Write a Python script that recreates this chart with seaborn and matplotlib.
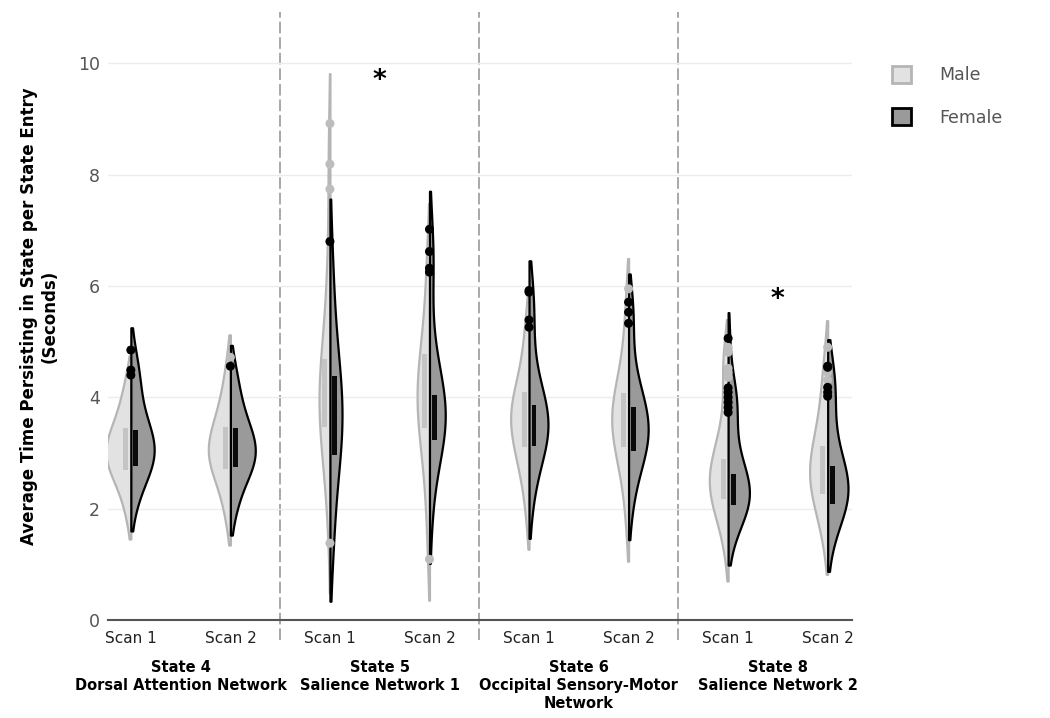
import pandas as pd
import seaborn as sns
import matplotlib.pyplot as plt
import matplotlib.transforms as mtransforms
from matplotlib.patches import Patch

scans = ['Scan 1', 'Scan 2']
states = ['State 4', 'State 5', 'State 6', 'State 8']
state_titles = ['State 4\nDorsal Attention Network',
                'State 5\nSalience Network 1',
                'State 6\nOccipital Sensory-Motor\nNetwork',
                'State 8\nSalience Network 2']
sexes = ['Male', 'Female']

# per-subject values (body) and the outlier dots
s4_scan1_male = [1.8, 2.1, 2.3, 2.45, 2.55, 2.63, 2.7, 2.77, 2.84, 2.9, 2.96, 3.01, 3.06, 3.11, 3.17,
                 3.23, 3.3, 3.37, 3.45, 3.55, 3.67, 3.8, 3.95, 4.15, 4.4]
s4_scan1_male_out = []
s4_scan1_female = [2.0, 2.3, 2.48, 2.6, 2.68, 2.76, 2.83, 2.9, 2.96, 3.02, 3.08, 3.14, 3.2, 3.27,
                   3.34, 3.42, 3.52, 3.64, 3.8, 4.0, 4.2]
s4_scan1_female_out = [4.40, 4.49, 4.85]

s4_scan2_male = [1.75, 2.05, 2.3, 2.47, 2.6, 2.7, 2.78, 2.85, 2.92, 2.98, 3.04, 3.1, 3.17, 3.24, 3.32,
                 3.4, 3.5, 3.62, 3.76, 3.92, 4.1, 4.35]
s4_scan2_male_out = [4.72]
s4_scan2_female = [1.9, 2.2, 2.42, 2.56, 2.66, 2.74, 2.82, 2.89, 2.95, 3.01, 3.07, 3.13, 3.2, 3.28,
                   3.36, 3.45, 3.56, 3.7, 3.86, 4.05, 4.28]
s4_scan2_female_out = [4.56]

s5_scan1_male = [2.05, 2.4, 2.7, 2.95, 3.15, 3.3, 3.4, 3.5, 3.6, 3.68, 3.76, 3.84, 3.9, 3.97, 4.05,
                 4.13, 4.22, 4.32, 4.42, 4.52, 4.65, 4.8, 5.0, 5.25, 5.55, 5.9, 6.3, 6.7]
s5_scan1_male_out = [1.38, 7.74, 8.19, 8.92]
s5_scan1_female = [1.1, 1.5, 1.9, 2.3, 2.6, 2.85, 3.0, 3.1, 3.22, 3.35, 3.48, 3.6, 3.72, 3.85, 3.97,
                   4.1, 4.22, 4.35, 4.5, 4.7, 4.95, 5.3, 5.7, 6.1]
s5_scan1_female_out = [6.8]

s5_scan2_male = [1.7, 2.2, 2.6, 2.9, 3.1, 3.3, 3.45, 3.58, 3.7, 3.8, 3.9, 3.98, 4.06, 4.15, 4.25,
                 4.35, 4.48, 4.62, 4.78, 4.95, 5.2, 5.5, 5.9, 6.4, 6.75]
s5_scan2_male_out = [1.09]
s5_scan2_female = [1.7, 2.3, 2.7, 2.95, 3.1, 3.18, 3.26, 3.34, 3.42, 3.5, 3.57, 3.64, 3.7, 3.76, 3.82,
                   3.88, 3.95, 4.02, 4.1, 4.2, 4.32, 4.5, 4.8, 5.2]
s5_scan2_female_out = [6.25, 6.32, 6.62, 7.02]

s6_scan1_male = [1.75, 2.2, 2.5, 2.7, 2.85, 2.97, 3.08, 3.18, 3.28, 3.38, 3.46, 3.54, 3.6, 3.66, 3.72,
                 3.78, 3.85, 3.93, 4.02, 4.12, 4.25, 4.4, 4.6, 4.85, 5.15, 5.5]
s6_scan1_male_out = []
s6_scan1_female = [2.0, 2.4, 2.65, 2.85, 2.98, 3.08, 3.16, 3.24, 3.3, 3.36, 3.42, 3.48, 3.54, 3.6, 3.67,
                   3.74, 3.82, 3.9, 3.96, 4.05, 4.2, 4.4, 4.7]
s6_scan1_female_out = [5.26, 5.39, 5.89, 5.92]

s6_scan2_male = [1.6, 2.1, 2.45, 2.7, 2.88, 3.0, 3.1, 3.2, 3.3, 3.4, 3.48, 3.55, 3.62, 3.68, 3.75,
                 3.82, 3.9, 3.98, 4.08, 4.2, 4.35, 4.55, 4.8, 5.1, 5.5]
s6_scan2_male_out = [5.95]
s6_scan2_female = [1.95, 2.35, 2.6, 2.78, 2.9, 3.0, 3.08, 3.15, 3.22, 3.28, 3.34, 3.4, 3.47, 3.54, 3.62,
                   3.7, 3.78, 3.86, 3.94, 4.04, 4.18, 4.4, 4.75]
s6_scan2_female_out = [5.33, 5.53, 5.71]

s8_scan1_male = [1.2, 1.5, 1.72, 1.88, 2.0, 2.08, 2.14, 2.2, 2.25, 2.3, 2.35, 2.4, 2.45, 2.5, 2.55,
                 2.6, 2.66, 2.72, 2.78, 2.85, 2.92, 3.0, 3.08, 3.2, 3.35, 3.55, 3.75]
s8_scan1_male_out = [4.36, 4.45, 4.52, 4.81, 4.9]
s8_scan1_female = [1.45, 1.68, 1.82, 1.92, 1.98, 2.03, 2.07, 2.11, 2.15, 2.19, 2.23, 2.27, 2.31, 2.36,
                   2.41, 2.47, 2.54, 2.61, 2.68, 2.76, 2.86, 3.0, 3.2, 3.45]
s8_scan1_female_out = [3.73, 3.82, 3.91, 4.0, 4.09, 4.17, 5.06]

s8_scan2_male = [1.3, 1.6, 1.82, 1.98, 2.1, 2.2, 2.28, 2.36, 2.43, 2.5, 2.57, 2.64, 2.71, 2.78, 2.86,
                 2.94, 3.02, 3.1, 3.2, 3.32, 3.46, 3.62, 3.8, 4.0]
s8_scan2_male_out = [4.31, 4.45, 4.9]
s8_scan2_female = [1.35, 1.62, 1.8, 1.92, 2.0, 2.06, 2.12, 2.17, 2.22, 2.27, 2.32, 2.38, 2.44, 2.5,
                   2.57, 2.64, 2.72, 2.8, 2.9, 3.02, 3.18, 3.4, 3.7]
s8_scan2_female_out = [4.02, 4.09, 4.18, 4.54, 4.56]

groups = [
    ('State 4', 'Scan 1', s4_scan1_male, s4_scan1_male_out, s4_scan1_female, s4_scan1_female_out),
    ('State 4', 'Scan 2', s4_scan2_male, s4_scan2_male_out, s4_scan2_female, s4_scan2_female_out),
    ('State 5', 'Scan 1', s5_scan1_male, s5_scan1_male_out, s5_scan1_female, s5_scan1_female_out),
    ('State 5', 'Scan 2', s5_scan2_male, s5_scan2_male_out, s5_scan2_female, s5_scan2_female_out),
    ('State 6', 'Scan 1', s6_scan1_male, s6_scan1_male_out, s6_scan1_female, s6_scan1_female_out),
    ('State 6', 'Scan 2', s6_scan2_male, s6_scan2_male_out, s6_scan2_female, s6_scan2_female_out),
    ('State 8', 'Scan 1', s8_scan1_male, s8_scan1_male_out, s8_scan1_female, s8_scan1_female_out),
    ('State 8', 'Scan 2', s8_scan2_male, s8_scan2_male_out, s8_scan2_female, s8_scan2_female_out),
]

body_rows, out_rows = [], []
for state, scan, m, m_out, f, f_out in groups:
    cat = f'{state} {scan}'
    body_rows += [(cat, 'Male', v) for v in m] + [(cat, 'Female', v) for v in f]
    out_rows += [(cat, 'Male', v) for v in m_out] + [(cat, 'Female', v) for v in f_out]
cats = [f'{s} {sc}' for s in states for sc in scans]
body = pd.DataFrame(body_rows, columns=['cat', 'sex', 'value'])
outl = pd.DataFrame(out_rows, columns=['cat', 'sex', 'value'])
alld = pd.concat([body, outl], ignore_index=True)

male_fill, male_edge = '#e2e2e2', '#b5b5b5'
fem_fill, fem_edge = '#9a9a9a', '#000000'

sns.set_theme(style='white')
plt.rcParams['font.family'] = ['DejaVu Sans']

fig, ax = plt.subplots(figsize=(10.5, 7.18), dpi=100)
fig.subplots_adjust(left=0.103, right=0.811, bottom=0.1365, top=0.983)

sns.violinplot(data=alld, x='cat', y='value', hue='sex', order=cats, hue_order=sexes,
               split=True, inner=None, cut=1, bw_adjust=1.05, density_norm='area', width=0.5,
               palette={'Male': male_fill, 'Female': fem_fill}, linewidth=1.6,
               legend=False, ax=ax)
for coll in ax.collections:
    fc = coll.get_facecolor()
    if len(fc) and fc[0][0] > 0.8:
        coll.set_edgecolor(male_edge)
    else:
        coll.set_edgecolor(fem_edge)
        coll.set_zorder(1.5)

sns.boxplot(data=body, x='cat', y='value', hue='sex', order=cats, hue_order=sexes,
            width=0.2, gap=0.5, whis=0, showfliers=False, showcaps=False, linewidth=0,
            palette={'Male': '#c4c4c4', 'Female': '#0a0a0a'},
            medianprops={'linewidth': 0}, whiskerprops={'linewidth': 0},
            legend=False, ax=ax)

sns.stripplot(data=outl, x='cat', y='value', hue='sex', order=cats, hue_order=sexes,
              jitter=False, dodge=False, size=6.5, linewidth=0,
              palette={'Male': '#bdbdbd', 'Female': '#000000'}, legend=False, zorder=5, ax=ax)

ax.set_xlim(-0.228, 7.24)
ax.set_ylim(0, 10.92)
ax.set_yticks([0, 2, 4, 6, 8, 10])
ax.tick_params(axis='y', labelsize=12.5, labelcolor='#555555', length=0, pad=6)
ax.set_xticks(range(len(cats)))
ax.set_xticklabels(scans * len(states))
ax.tick_params(axis='x', labelsize=11, labelcolor='#222222', length=0, pad=8)
ax.grid(axis='y', color='#ececec', linewidth=1)
ax.set_axisbelow(True)
for side in ['top', 'right', 'left']:
    ax.spines[side].set_visible(False)
ax.spines['bottom'].set_color('#555555')
ax.spines['bottom'].set_linewidth(1.5)
ax.set_xlabel('')
ax.set_ylabel('Average Time Persisting in State per State Entry\n(Seconds)',
              fontsize=12, fontweight='bold', color='black', labelpad=14)

for b in [1.5, 3.5, 5.5]:
    ax.axvline(b, ymin=-0.033, ymax=1, color='#a8a8a8', linewidth=1.4,
               linestyle=(0, (6, 2)), clip_on=False, zorder=0.5)

trans = mtransforms.blended_transform_factory(ax.transData, ax.transAxes)
for i, title in enumerate(state_titles):
    ax.text(2 * i + 0.5, -0.066, title, transform=trans, ha='center', va='top',
            fontsize=10.5, fontweight='bold', color='black', linespacing=1.25)

ax.text(2.5, 9.68, '*', fontsize=19, fontweight='bold', color='black', ha='center', va='center')
ax.text(6.5, 5.75, '*', fontsize=19, fontweight='bold', color='black', ha='center', va='center')

handles = [Patch(facecolor=male_fill, edgecolor=male_edge, linewidth=2, label='Male'),
           Patch(facecolor=fem_fill, edgecolor=fem_edge, linewidth=2, label='Female')]
fig.legend(handles=handles, loc='upper left', bbox_to_anchor=(0.835, 0.93), frameon=False,
           fontsize=12.5, handlelength=1.1, handleheight=1.1, labelspacing=1.4,
           handletextpad=1.6, labelcolor='#555555')

plt.savefig('out.png', dpi=100)
